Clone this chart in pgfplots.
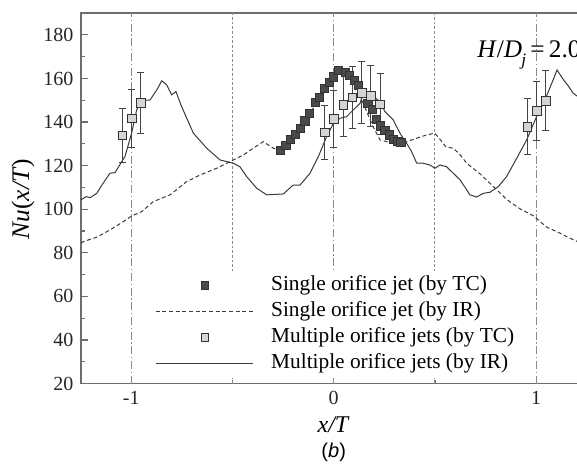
\documentclass[border=0pt]{standalone}
\usepackage{pgfplots}
\pgfplotsset{compat=1.18}
\usepackage{fontspec}
\setmainfont{Liberation Serif}
\newfontfamily\arialfont{Liberation Sans}
\definecolor{axgray}{HTML}{6E6E6E}
\definecolor{curve}{HTML}{3A3A3A}
\definecolor{darksq}{HTML}{4A4A4A}
\definecolor{lightsq}{HTML}{D4D4D4}
\definecolor{sqedge}{HTML}{333333}
\definecolor{refgray}{HTML}{8A8A8A}
\definecolor{errgray}{HTML}{444444}
\pgfplotsset{
 mylineleg/.style={legend image code/.code={\draw[##1] (0pt,0pt) -- (72.75pt,0pt); \path (0pt,0pt) (84.75pt,0pt);}},
 mymarkleg/.style={legend image code/.code={\draw[##1] plot coordinates {(37pt,0pt)}; \path (0pt,0pt) (84.75pt,0pt);}},
}
\begin{document}
\begin{tikzpicture}
\begin{axis}[
  scale only axis,
  width=374.85pt, height=277.95pt,
  xmin=-1.248, xmax=1.22, ymin=20, ymax=190,
  clip=false,
  axis line style={draw=axgray, line width=1.1pt},
  xtick={-1,0,1}, xticklabels={-1,0,1},
  minor xtick={-0.5,0.5},
  ytick={20,40,...,180}, minor ytick={30,50,...,170},
  xtick pos=bottom, ytick pos=left,
  major tick length=5.25pt, minor tick length=3pt,
  tick style={draw=axgray, line width=0.9pt},
  ticklabel style={font=\fontsize{15}{17}\selectfont, text=black!85},
  yticklabel style={xshift=-2.25pt},
  xticklabel style={yshift=-2pt},
  /pgf/number format/assume math mode=true,
  legend style={at={(rel axis cs:0.140,0.0155)}, anchor=south west, fill=white, draw=none,
    inner xsep=3pt, inner ysep=2pt, row sep=2pt,
    font=\fontsize{16}{19.5}\selectfont,
    nodes={inner sep=1.5pt, text height=11pt, text depth=3.5pt}},
  legend cell align=left,
]
% reference lines
\addplot[forget plot, refgray, line width=0.7pt, dash pattern=on 6pt off 2pt on 1pt off 2pt] coordinates {(-1,20) (-1,190)};
\addplot[forget plot, refgray, line width=0.7pt, dash pattern=on 6pt off 2pt on 1pt off 2pt] coordinates {(0,20) (0,190)};
\addplot[forget plot, refgray, line width=0.7pt, dash pattern=on 6pt off 2pt on 1pt off 2pt] coordinates {(1,20) (1,190)};
\addplot[forget plot, refgray, line width=0.7pt, dash pattern=on 2pt off 1.5pt] coordinates {(-0.5,20) (-0.5,190)};
\addplot[forget plot, refgray, line width=0.7pt, dash pattern=on 2pt off 1.5pt] coordinates {(0.5,20) (0.5,190)};

% single orifice jet (by IR), dashed
\addplot[forget plot, curve, line width=0.75pt, dash pattern=on 3pt off 2pt] coordinates {
(-1.248,84.5) (-1.237,85.1) (-1.17,87.2) (-1.105,90.5) (-1.039,94.3) (-0.998,96.9)
(-0.948,98.9) (-0.891,103.5) (-0.808,106.6) (-0.726,112.7) (-0.66,115.7) (-0.578,118.8)
(-0.496,122.6) (-0.446,124.9) (-0.397,128.0) (-0.348,131.0) (-0.298,128.0) (-0.265,126.8)
(-0.22,130.5) (-0.17,136.5) (-0.12,143.5) (-0.07,151) (-0.02,158) (0.02,162.5) (0.06,162)
(0.1,158.5) (0.14,150) (0.16,145.5) (0.194,138) (0.229,131.8) (0.262,131.0) (0.311,130.3)
(0.36,131.0) (0.41,132.6) (0.459,134.1) (0.5,134.9) (0.53,131.5) (0.555,128.5) (0.59,128.0)
(0.62,125.5) (0.657,121.1) (0.722,116.3) (0.788,110.5) (0.854,104.5) (0.92,100.2)
(0.986,97.0) (1.052,91.8) (1.118,89.0) (1.16,87.0) (1.22,84.5)};

% multiple orifice jets (by IR), solid
\addplot[forget plot, curve, line width=0.75pt] coordinates {
(-1.248,104.3) (-1.223,105.8) (-1.203,105.3) (-1.17,107.3) (-1.139,111.9) (-1.105,116.5)
(-1.08,116.8) (-1.047,121.8) (-1.031,124.1) (-0.998,134.9) (-0.973,145.6) (-0.948,150.1)
(-0.907,150.1) (-0.874,154.7) (-0.849,158.9) (-0.825,157.1) (-0.8,152.5) (-0.779,154.0)
(-0.751,147.1) (-0.693,134.9) (-0.627,128.0) (-0.561,122.6) (-0.496,121.1) (-0.463,119.5)
(-0.43,115.0) (-0.38,109.6) (-0.331,106.6) (-0.249,107.0) (-0.2,111.1) (-0.166,111.1)
(-0.117,116.5) (-0.076,124.1) (-0.035,133.3) (-0.002,139.4) (0.031,141.7) (0.064,142.5)
(0.105,146.3) (0.13,148.6) (0.146,153.2) (0.163,154.0) (0.196,151.7) (0.229,149.4)
(0.253,144.8) (0.294,141.0) (0.327,134.9) (0.36,130.3) (0.385,126.4) (0.41,121.1)
(0.442,121.1) (0.475,120.3) (0.5,118.8) (0.525,120.3) (0.558,119.5) (0.574,118.0)
(0.624,113.5) (0.673,106.6) (0.706,105.6) (0.739,107.3) (0.772,107.8) (0.813,110.4)
(0.854,115.0) (0.904,123.4) (0.953,131.8) (1.002,142.5) (1.043,150.1) (1.077,157.8)
(1.103,163.9) (1.134,159.5) (1.159,156.5) (1.183,153.2) (1.201,152.0) (1.22,151.0)};

% single orifice jet (by TC)
\addplot[forget plot, only marks, mark=square*, mark size=3.1pt, mark options={fill=darksq, draw=sqedge, line width=0.5pt}] coordinates {
(-0.262,126.9) (-0.236,129.2) (-0.214,132.2) (-0.188,134.5) (-0.166,137.1) (-0.142,140.5)
(-0.120,144.0) (-0.092,149.1) (-0.071,151.2) (-0.046,155.5) (-0.023,158.3) (-0.002,160.8)
(0.023,163.6) (0.056,162.8) (0.077,161.6) (0.102,159.0) (0.121,157.0) (0.141,153.7)
(0.168,148.6) (0.191,145.9) (0.212,141.4) (0.232,138.3) (0.253,136.1) (0.275,134.1)
(0.294,132.1) (0.316,131.0) (0.332,130.6)};

% multiple orifice jets (by TC)
\addplot[forget plot, only marks, mark=square*, mark size=3.2pt, mark options={fill=lightsq, draw=sqedge, line width=0.5pt},
  error bars/.cd, y dir=both, y explicit,
  error bar style={color=errgray, line width=0.6pt},
  error mark options={rotate=90, mark size=2.6pt, color=errgray, line width=0.6pt}]
  table[x=x, y=y, y error=e] {
x y e
-1.044 133.8 12.4
-0.998 141.7 13.2
-0.953 148.9 14.0
-0.045 135.2 12.5
0.000 141.5 13.2
0.047 147.8 14.4
0.092 151.3 14.2
0.138 153.5 14.2
0.183 152.0 14.2
0.229 148.2 14.0
0.956 137.9 12.9
1.002 145.2 13.4
1.047 149.8 13.8
};

% legend
\addlegendimage{mymarkleg, only marks, mark=square*, mark size=2.8pt, mark options={fill=darksq, draw=sqedge, line width=0.5pt}}
\addlegendentry{Single orifice jet (by TC)}
\addlegendimage{mylineleg, curve, line width=0.75pt, dash pattern=on 3pt off 2pt}
\addlegendentry{Single orifice jet (by IR)}
\addlegendimage{mymarkleg, only marks, mark=square*, mark size=2.8pt, mark options={fill=lightsq, draw=sqedge, line width=0.5pt}}
\addlegendentry{Multiple orifice jets (by TC)}
\addlegendimage{mylineleg, curve, line width=0.75pt}
\addlegendentry{Multiple orifice jets (by IR)}

\node[anchor=base west, inner sep=0pt, font=\fontsize{19}{22}\selectfont] at (axis cs:0.708,169.4)
  {\textit{H}/\textit{D}\kern-0.5pt\raisebox{-6pt}{\fontsize{13}{13}\selectfont\textit{j}}\,=\,2.0};
\node[font=\fontsize{18}{20}\selectfont] at ([yshift=-31pt]axis cs:0,20) {\textit{x/T}};
\node[font=\arialfont\fontsize{15}{18}\selectfont] at ([yshift=-51.2pt]axis cs:0,20) {(\textit{b})};
\node[rotate=90, font=\fontsize{19}{22}\selectfont] at ([xshift=-43.5pt]axis cs:-1.248,104.7) {\textit{Nu}(\textit{x/T})};
\coordinate (bbsw) at (axis cs:-1.248,20);
\coordinate (bbne) at (axis cs:1.2016,190);
\end{axis}
\pgfresetboundingbox
\path[use as bounding box] ([xshift=-60.75pt,yshift=-66.2pt]bbsw) rectangle ([yshift=9.8pt]bbne);
\end{tikzpicture}
\end{document}
